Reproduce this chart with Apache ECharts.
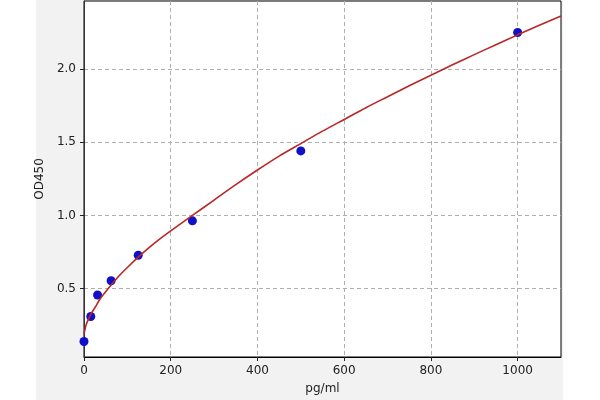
<!DOCTYPE html>
<html>
<head>
<meta charset="utf-8">
<script src="https://cdn.jsdelivr.net/npm/echarts@6/dist/echarts.min.js"></script>
<style>
html,body{margin:0;padding:0;background:#ffffff;}
#chart{width:600px;height:400px;}
</style>
</head>
<body>
<div id="chart"></div>
<script>
// Measured standard points
var stdConc = [0, 15.6, 31.25, 62.5, 125, 250, 500, 1000];
var stdOD = [0.14, 0.31, 0.457, 0.554, 0.728, 0.963, 1.44, 2.248];

// Fitted curve
var curveX = [0, 5, 10, 15.6, 25, 37, 50, 62.5, 80, 100, 125, 150, 175, 200, 250, 300, 350, 400, 450, 500, 550, 600, 650, 700, 750, 800, 850, 900, 950, 1000, 1050, 1100];
var curveY = [0.19, 0.255, 0.29, 0.325, 0.37, 0.43, 0.48, 0.525, 0.585, 0.645, 0.715, 0.78, 0.84, 0.895, 1.0, 1.105, 1.21, 1.31, 1.405, 1.49, 1.575, 1.655, 1.735, 1.81, 1.885, 1.957, 2.028, 2.097, 2.165, 2.232, 2.297, 2.36];

var xTicks = [0, 200, 400, 600, 800, 1000];
var yTicks = [0.5, 1.0, 1.5, 2.0];

var xName = 'pg/ml';
var yName = 'OD450';

var chart = echarts.init(document.getElementById('chart'), null, {renderer: 'canvas'});

var font = 'DejaVu Sans';
var gridLine = {show: true, lineStyle: {color: '#b0b0b0', width: 1, type: [4, 3]}};

var option = {
  animation: false,
  backgroundColor: '#ffffff',
  graphic: [{
    type: 'rect', z: -10, silent: true,
    shape: {x: 36, y: 0, width: 527, height: 400},
    style: {fill: '#f2f2f2'}
  }],
  grid: {
    left: 84, top: 1, right: 39, bottom: 41,
    show: true, backgroundColor: '#ffffff', borderColor: '#000000', borderWidth: 1
  },
  xAxis: {
    type: 'value', min: 0, max: 1100,
    name: xName, nameLocation: 'middle', nameGap: 26,
    nameTextStyle: {fontFamily: font, fontSize: 12, color: '#222'},
    axisLine: {show: true, onZero: false, lineStyle: {color: '#000', width: 1}},
    axisTick: {show: true, length: 4, inside: false, customValues: xTicks, lineStyle: {color: '#222'}},
    axisLabel: {customValues: xTicks, margin: 8, fontFamily: font, fontSize: 12, color: '#222',
      formatter: function (v) { return String(v); }},
    splitLine: gridLine
  },
  yAxis: {
    type: 'value', min: 0.034, max: 2.463,
    name: yName, nameLocation: 'middle', nameGap: 33, nameRotate: 90,
    nameTextStyle: {fontFamily: font, fontSize: 12, color: '#222'},
    axisLine: {show: true, onZero: false, lineStyle: {color: '#333', width: 1}},
    axisTick: {show: true, length: 4, inside: false, customValues: yTicks, lineStyle: {color: '#222'}},
    axisLabel: {customValues: yTicks, margin: 8, fontFamily: font, fontSize: 12, color: '#222',
      formatter: function (v) { return v.toFixed(1); }},
    splitLine: gridLine
  },
  series: [
    {
      type: 'scatter', z: 2,
      data: stdConc.map(function (x, i) { return [x, stdOD[i]]; }),
      symbol: 'circle', symbolSize: 9,
      itemStyle: {color: '#1010c8', opacity: 1}
    },
    {
      type: 'line', z: 3, smooth: 0.3, showSymbol: false,
      data: curveX.map(function (x, i) { return [x, curveY[i]]; }),
      lineStyle: {color: '#bb2626', width: 1.6}
    }
  ]
};
chart.setOption(option);
</script>
</body>
</html>
